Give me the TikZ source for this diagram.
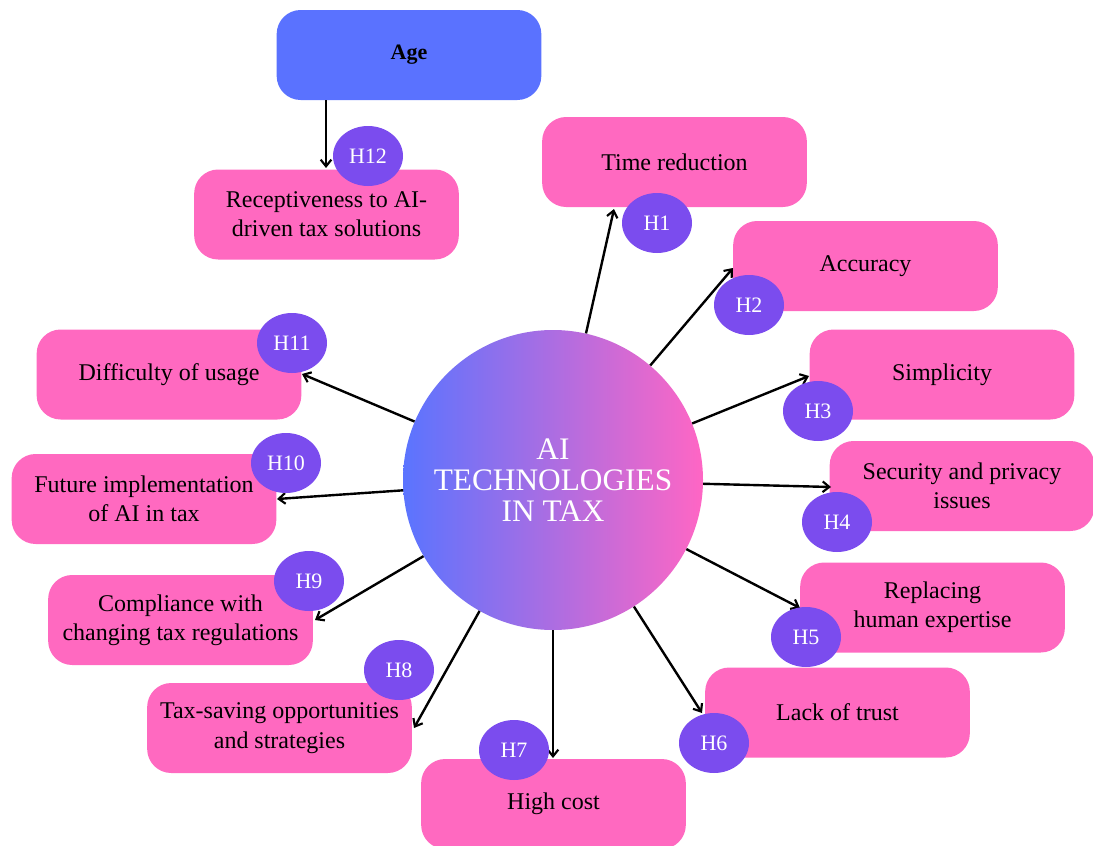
\documentclass[tikz,border=0pt]{standalone}
\usepackage{fontspec}
\setmainfont{Liberation Serif}
\usetikzlibrary{arrows.meta,shapes.geometric}
\definecolor{pinkbox}{HTML}{FF69C0}
\definecolor{agebl}{HTML}{5A72FF}
\definecolor{hpurple}{HTML}{7B4CEE}
\definecolor{cblue}{HTML}{5A74FF}
\definecolor{cpink}{HTML}{FF66C4}
\begin{document}
\begin{tikzpicture}[x=0.75pt,y=-0.75pt,
  box/.style={fill=pinkbox, rounded corners=18pt, minimum width=198.5pt, minimum height=67.5pt,
    align=center, inner sep=0pt, font=\fontsize{18}{22}\selectfont},
  hyp/.style={ellipse, fill=hpurple, text=white, minimum width=52.5pt, minimum height=45pt,
    inner sep=0pt, font=\fontsize{16.5}{18}\selectfont},
  arr/.style={draw=black, line width=1.8pt, -{Straight Barb[length=5pt,width=8pt,line width=1.6pt]}}]
\useasboundingbox (0,0) rectangle (1093,846);

% central circle
\node[circle, minimum size=225pt, inner sep=0pt, left color=cblue, right color=cpink,
  text=white, align=center, font=\fontsize{23.5}{23}\selectfont] (c) at (553,480)
  {AI\\TECHNOLOGIES\\IN TAX};

% boxes
\node[box, fill=agebl, font=\fontsize{16.5}{20}\selectfont\bfseries] (age) at (409,55) {Age};
\node[box] (b12) at (326.5,214.5) {Receptiveness to AI-\\driven tax solutions};
\node[box] (b1) at (674.5,162) {Time reduction};
\node[box] (b2) at (865.5,266) {Accuracy};
\node[box] (b3) at (942,374.5) {Simplicity};
\node[box] (b4) at (962,486) {Security and privacy\\issues};
\node[box] (b5) at (932.5,607.5) {Replacing\\human expertise};
\node[box] (b6) at (837.5,712.5) {Lack of trust};
\node[box] (b7) at (553.5,804) {High cost};
\node[box] (b8) at (279.5,728) {Tax-saving opportunities\\and strategies};
\node[box] (b9) at (180.5,620) {Compliance with\\changing tax regulations};
\node[box] (b10) at (144,499) {Future implementation\\of AI in tax};
\node[box] (b11) at (169,374.5) {Difficulty of usage};

% arrow tips
\coordinate (t1) at (614,209);
\coordinate (t2) at (733,268);
\coordinate (t3) at (809,376);
\coordinate (t4) at (831,487);
\coordinate (t5) at (800,608);
\coordinate (t6) at (702,713);
\coordinate (t7) at (553,758);
\coordinate (t8) at (414,728);
\coordinate (t9) at (315,620);
\coordinate (t10) at (277,499);
\coordinate (t11) at (302,374);
\coordinate (t12) at (326,168);

\foreach \i in {1,...,11} \draw[arr] (c) -- (t\i);
\draw[arr] (age.south -| t12) -- (t12);

% hypothesis labels
\node[hyp] (h1) at (657,223) {H1};
\node[hyp] (h2) at (749,305) {H2};
\node[hyp] (h3) at (818,411) {H3};
\node[hyp] (h4) at (837,522) {H4};
\node[hyp] (h5) at (806,637) {H5};
\node[hyp] (h6) at (714,743) {H6};
\node[hyp] (h7) at (514,750) {H7};
\node[hyp] (h8) at (399,670) {H8};
\node[hyp] (h9) at (309,581) {H9};
\node[hyp] (h10) at (286,463) {H10};
\node[hyp] (h11) at (292,343) {H11};
\node[hyp] (h12) at (368,156) {H12};
\end{tikzpicture}
\end{document}
